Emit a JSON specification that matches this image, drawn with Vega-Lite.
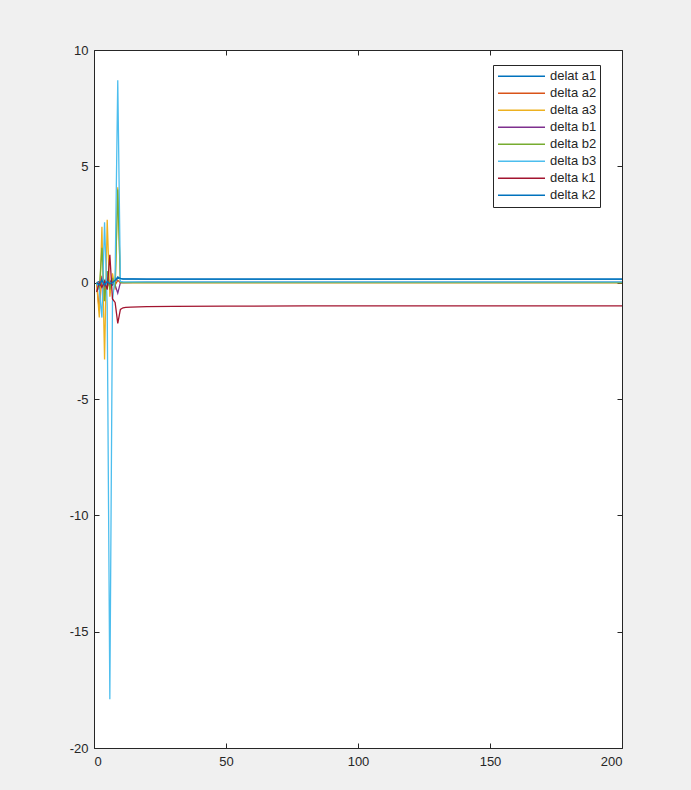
{
  "$schema": "https://vega.github.io/schema/vega-lite/v6.json",
  "width": 528,
  "height": 698,
  "autosize": {"type": "none"},
  "padding": {"left": 94, "top": 50, "right": 69, "bottom": 42},
  "background": "#f0f0f0",
  "config": {
    "view": {"fill": "white", "stroke": null},
    "font": "Liberation Sans",
    "axis": {
      "domainColor": "#262626",
      "domainWidth": 1,
      "tickColor": "#262626",
      "tickWidth": 1,
      "tickSize": -5,
      "grid": false,
      "labelFont": "Liberation Sans",
      "labelFontSize": 13,
      "labelColor": "#262626",
      "title": null
    }
  },
  "data": {
    "values": [
      {"s": "delat a1", "x": 1, "v": 0}, {"s": "delat a1", "x": 2, "v": 0.05}, {"s": "delat a1", "x": 3, "v": -0.1}, {"s": "delat a1", "x": 4, "v": 0.1}, {"s": "delat a1", "x": 5, "v": -0.15}, {"s": "delat a1", "x": 6, "v": 0.1}, {"s": "delat a1", "x": 7, "v": -0.1}, {"s": "delat a1", "x": 8, "v": 0.05}, {"s": "delat a1", "x": 9, "v": 0.2}, {"s": "delat a1", "x": 10, "v": 0.17}, {"s": "delat a1", "x": 11, "v": 0.16}, {"s": "delat a1", "x": 15, "v": 0.16}, {"s": "delat a1", "x": 20, "v": 0.15}, {"s": "delat a1", "x": 50, "v": 0.15}, {"s": "delat a1", "x": 100, "v": 0.15}, {"s": "delat a1", "x": 150, "v": 0.15}, {"s": "delat a1", "x": 200, "v": 0.15},
      {"s": "delta a2", "x": 1, "v": 0}, {"s": "delta a2", "x": 2, "v": -1.2}, {"s": "delta a2", "x": 3, "v": 0.3}, {"s": "delta a2", "x": 4, "v": -0.4}, {"s": "delta a2", "x": 5, "v": 0.2}, {"s": "delta a2", "x": 6, "v": -0.2}, {"s": "delta a2", "x": 7, "v": 0.1}, {"s": "delta a2", "x": 8, "v": -0.1}, {"s": "delta a2", "x": 9, "v": 0.1}, {"s": "delta a2", "x": 10, "v": 0}, {"s": "delta a2", "x": 20, "v": 0}, {"s": "delta a2", "x": 100, "v": 0}, {"s": "delta a2", "x": 200, "v": 0},
      {"s": "delta a3", "x": 1, "v": 0}, {"s": "delta a3", "x": 2, "v": -1.5}, {"s": "delta a3", "x": 3, "v": 2.4}, {"s": "delta a3", "x": 4, "v": -3.3}, {"s": "delta a3", "x": 5, "v": 2.7}, {"s": "delta a3", "x": 6, "v": -0.6}, {"s": "delta a3", "x": 7, "v": 0.4}, {"s": "delta a3", "x": 8, "v": -0.3}, {"s": "delta a3", "x": 9, "v": 4.1}, {"s": "delta a3", "x": 10, "v": 0.05}, {"s": "delta a3", "x": 11, "v": 0}, {"s": "delta a3", "x": 20, "v": 0}, {"s": "delta a3", "x": 100, "v": 0}, {"s": "delta a3", "x": 200, "v": 0},
      {"s": "delta b1", "x": 1, "v": 0}, {"s": "delta b1", "x": 2, "v": -0.1}, {"s": "delta b1", "x": 3, "v": 0.2}, {"s": "delta b1", "x": 4, "v": -0.2}, {"s": "delta b1", "x": 5, "v": 0.3}, {"s": "delta b1", "x": 6, "v": -0.2}, {"s": "delta b1", "x": 7, "v": 0.1}, {"s": "delta b1", "x": 8, "v": -0.1}, {"s": "delta b1", "x": 9, "v": -0.45}, {"s": "delta b1", "x": 10, "v": 0}, {"s": "delta b1", "x": 20, "v": 0.02}, {"s": "delta b1", "x": 100, "v": 0.02}, {"s": "delta b1", "x": 200, "v": 0.02},
      {"s": "delta b2", "x": 1, "v": 0}, {"s": "delta b2", "x": 2, "v": -0.3}, {"s": "delta b2", "x": 3, "v": 1.5}, {"s": "delta b2", "x": 4, "v": -0.8}, {"s": "delta b2", "x": 5, "v": 0.5}, {"s": "delta b2", "x": 6, "v": -0.3}, {"s": "delta b2", "x": 7, "v": 0.2}, {"s": "delta b2", "x": 8, "v": -0.2}, {"s": "delta b2", "x": 9, "v": 4.0}, {"s": "delta b2", "x": 10, "v": 0}, {"s": "delta b2", "x": 20, "v": 0}, {"s": "delta b2", "x": 100, "v": 0}, {"s": "delta b2", "x": 200, "v": 0},
      {"s": "delta b3", "x": 1, "v": 0}, {"s": "delta b3", "x": 2, "v": -0.3}, {"s": "delta b3", "x": 3, "v": -1.5}, {"s": "delta b3", "x": 4, "v": 2.6}, {"s": "delta b3", "x": 5, "v": -1.0}, {"s": "delta b3", "x": 6, "v": -17.9}, {"s": "delta b3", "x": 7, "v": -0.8}, {"s": "delta b3", "x": 8, "v": 0.3}, {"s": "delta b3", "x": 9, "v": 8.7}, {"s": "delta b3", "x": 10, "v": 0.05}, {"s": "delta b3", "x": 11, "v": 0.03}, {"s": "delta b3", "x": 20, "v": 0.03}, {"s": "delta b3", "x": 100, "v": 0.03}, {"s": "delta b3", "x": 200, "v": 0.03},
      {"s": "delta k1", "x": 1, "v": -0.4}, {"s": "delta k1", "x": 2, "v": 0}, {"s": "delta k1", "x": 3, "v": -0.2}, {"s": "delta k1", "x": 4, "v": 0.05}, {"s": "delta k1", "x": 5, "v": -0.3}, {"s": "delta k1", "x": 6, "v": 1.2}, {"s": "delta k1", "x": 7, "v": -0.7}, {"s": "delta k1", "x": 8, "v": -0.85}, {"s": "delta k1", "x": 9, "v": -1.75}, {"s": "delta k1", "x": 10, "v": -1.15}, {"s": "delta k1", "x": 11, "v": -1.08}, {"s": "delta k1", "x": 12, "v": -1.06}, {"s": "delta k1", "x": 14, "v": -1.05}, {"s": "delta k1", "x": 20, "v": -1.03}, {"s": "delta k1", "x": 30, "v": -1.02}, {"s": "delta k1", "x": 50, "v": -1.01}, {"s": "delta k1", "x": 80, "v": -1.0}, {"s": "delta k1", "x": 200, "v": -1.0},
      {"s": "delta k2", "x": 1, "v": 0}, {"s": "delta k2", "x": 2, "v": -0.1}, {"s": "delta k2", "x": 3, "v": 0.1}, {"s": "delta k2", "x": 4, "v": -0.1}, {"s": "delta k2", "x": 5, "v": 0.05}, {"s": "delta k2", "x": 6, "v": -0.05}, {"s": "delta k2", "x": 7, "v": 0}, {"s": "delta k2", "x": 8, "v": 0.1}, {"s": "delta k2", "x": 9, "v": 0.25}, {"s": "delta k2", "x": 10, "v": 0.18}, {"s": "delta k2", "x": 11, "v": 0.15}, {"s": "delta k2", "x": 20, "v": 0.15}, {"s": "delta k2", "x": 100, "v": 0.15}, {"s": "delta k2", "x": 200, "v": 0.15}
    ]
  },
  "layer": [
    {
      "mark": {"type": "line", "strokeWidth": 1.3, "clip": true},
      "encoding": {
        "x": {"field": "x", "type": "quantitative", "scale": {"domain": [0, 200], "nice": false, "zero": false}, "axis": {"orient": "bottom", "values": [0, 50, 100, 150, 200], "labelPadding": 12}},
        "y": {"field": "v", "type": "quantitative", "scale": {"domain": [-20, 10], "nice": false, "zero": false}, "axis": {"orient": "left", "values": [-20, -15, -10, -5, 0, 5, 10], "labelPadding": 11, "labelExpr": "'' + datum.value"}},
        "color": {
          "field": "s", "type": "nominal",
          "scale": {
            "domain": ["delat a1", "delta a2", "delta a3", "delta b1", "delta b2", "delta b3", "delta k1", "delta k2"],
            "range": ["#0072BD", "#D95319", "#EDB120", "#7E2F8E", "#77AC30", "#4DBEEE", "#A2142F", "#0072BD"]
          },
          "legend": {
            "title": null,
            "orient": "none",
            "legendX": 399,
            "legendY": 15,
            "direction": "vertical",
            "fillColor": "white",
            "strokeColor": "#262626",
            "padding": 3,
            "symbolType": "stroke",
            "symbolSize": 2209,
            "symbolStrokeWidth": 1.5,
            "symbolOffset": 1,
            "clipHeight": 16.6,
            "rowPadding": 0,
            "labelFont": "Liberation Sans",
            "labelFontSize": 13,
            "labelColor": "#262626",
            "labelOffset": 4
          }
        }
      }
    },
    {
      "mark": {"type": "line", "strokeOpacity": 0},
      "encoding": {
        "x": {"field": "x", "type": "quantitative", "axis": {"orient": "top", "values": [0, 50, 100, 150, 200], "labels": false}},
        "y": {"field": "v", "type": "quantitative", "axis": {"orient": "right", "values": [-20, -15, -10, -5, 0, 5, 10], "labels": false}},
        "detail": {"field": "s"}
      }
    }
  ],
  "resolve": {"axis": {"x": "independent", "y": "independent"}}
}
